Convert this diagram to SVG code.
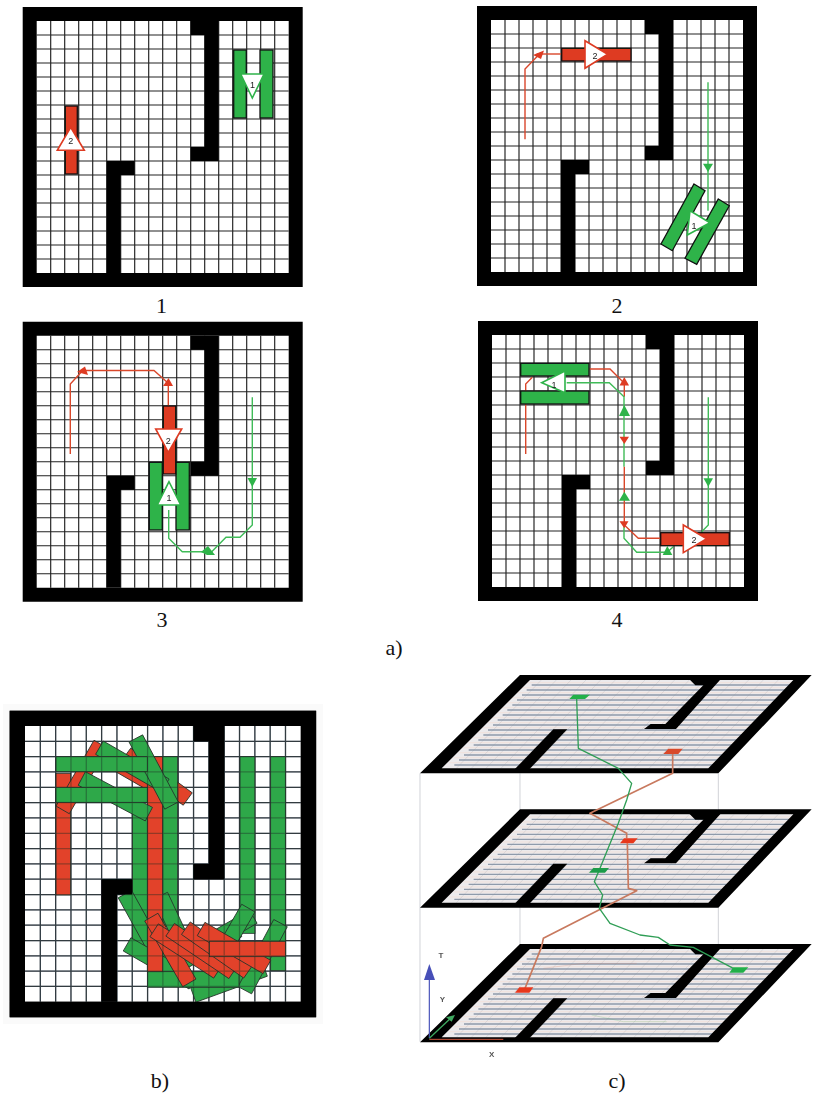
<svg xmlns="http://www.w3.org/2000/svg" xmlns:xlink="http://www.w3.org/1999/xlink" width="814" height="1096" viewBox="0 0 814 1096">
<style>
.grid{fill:none;stroke-width:1.15}
.bar{stroke:#111;stroke-width:1.3}
.g{fill:#2fb34a}
.r{fill:#de3a22}
.tg{fill:#fff;stroke:#2fb34a;stroke-width:1.6}
.tr{fill:#fff;stroke:#de3a22;stroke-width:1.6}
.pg{fill:none;stroke:#3fbb58;stroke-width:1.4}
.pr{fill:none;stroke:#d9472c;stroke-width:1.4}
.ag{fill:#2fb34a}
.ar{fill:#de3a22}
.id{font:9px "Liberation Sans",Arial,sans-serif;fill:#222;text-anchor:middle}
.cap{font:22px "Liberation Serif","Times New Roman",serif;fill:#111;text-anchor:middle}
.bb{stroke:#26332a;stroke-width:2.4}
.bg{fill:#2ea84a}
.br{fill:#e2432a}
.ax{font:bold 24px "Liberation Sans",Arial,sans-serif;fill:#555;text-anchor:middle}
</style>
<defs>
<filter id="s1" x="-5%" y="-5%" width="110%" height="110%"><feGaussianBlur stdDeviation="0.35"/></filter>
<filter id="s2" x="-5%" y="-5%" width="110%" height="110%"><feGaussianBlur stdDeviation="0.6"/></filter>
<filter id="s3" x="-5%" y="-5%" width="110%" height="110%"><feGaussianBlur stdDeviation="1.7"/></filter>
<path id="lines" d="M14 0V252M28 0V252M42 0V252M56 0V252M70 0V252M84 0V252M98 0V252M112 0V252M126 0V252M140 0V252M154 0V252M168 0V252M182 0V252M196 0V252M210 0V252M224 0V252M238 0V252M0 14H252M0 28H252M0 42H252M0 56H252M0 70H252M0 84H252M0 98H252M0 112H252M0 126H252M0 140H252M0 154H252M0 168H252M0 182H252M0 196H252M0 210H252M0 224H252M0 238H252"/>
<g id="walls" fill="#000">
<path d="M154 0H182V140H154V126H168V14H154Z"/>
<path d="M70 140H98V154H84V252H70Z"/>
<path fill-rule="evenodd" d="M-14 -14H266V266H-14ZM0 0V252H252V0Z"/>
</g>
<rect id="bar" class="bb" x="-114" y="-23" width="228" height="46"/>
<g id="plane">
<path d="M345 60H1165L905 325H85Z" fill="#eceaec"/>
<path d="M365 75H1145M350 90H1130M336 105H1116M321 120H1101M307 135H1087M292 150H1072M278 165H1058M263 180H1043M249 195H1029M234 210H1014M220 225H1000M205 240H985M191 255H971M176 270H956M162 285H942M147 300H927M133 315H913" fill="none" stroke="#8f9bab" stroke-width="4"/>
<path d="M350 68H1150M335 83H1135M320 98H1120M306 113H1106M291 128H1091M277 143H1077M262 158H1062M248 173H1048M233 188H1033M219 203H1019M204 218H1004M190 233H990M175 248H975M161 263H961M146 278H946M132 293H932M117 308H917" fill="none" stroke="#f3dcd4" stroke-width="2"/>
<path d="M394 60L139 325M439 60L184 325M483 60L228 325M528 60L273 325M572 60L317 325M616 60L361 325M661 60L406 325M705 60L450 325M750 60L495 325M794 60L539 325M838 60L583 325M883 60L628 325M927 60L672 325M972 60L717 325M1016 60L761 325M1060 60L805 325M1105 60L850 325" fill="none" stroke="#8d93a0" stroke-width="1.5" opacity=".4"/>
<path fill-rule="evenodd" d="M330 45H1205L925 340H30ZM360 60L95 325H895L1150 60Z" fill="#000"/>
<path d="M838 58H932L798 207H702L722 192H766L880 76H856Z" fill="#000"/>
<path d="M430 208H472L358 328H314Z" fill="#000"/>
</g>
</defs>
<rect width="814" height="1096" fill="#fff"/>

<g id="panel-1" filter="url(#s1)">
<g transform="translate(36.7 21)"><use href="#lines" class="grid" stroke="#222"/><use href="#walls"/></g>
<g id="robot-1a"><rect class="g bar" x="233.7" y="50" width="12.6" height="68"/><rect class="g bar" x="260" y="50" width="13" height="68"/><path class="tg" d="M240.7 74H264L252.3 98Z"/><text class="id" x="252.5" y="88">1</text></g>
<g id="robot-2a"><rect class="r bar" x="65.3" y="106" width="12" height="68"/><path class="tr" d="M57.3 150.3H84.3L70.7 127.3Z"/><text class="id" x="70.7" y="144">2</text></g>
</g>

<g id="panel-2" filter="url(#s1)">
<g transform="translate(491 20)"><use href="#lines" class="grid" stroke="#222"/><use href="#walls"/></g>
<g id="connectors-2">
<path class="pr" d="M525 139.3V69L541 52.5"/><path class="pr" d="M536.7 54H561.7"/><path class="ar" d="M544 50.5L541 59L533 55Z"/>
<path class="pg" d="M708 82.3V210.7"/><path class="ag" d="M703 163.7H713L708 172Z"/>
</g>
<g id="robot-2b"><rect class="r bar" x="561.7" y="48.3" width="69.3" height="12.7"/><path class="tr" d="M585 40.7V68.3L607.7 54.3Z"/><text class="id" x="595" y="59">2</text></g>
<g id="robot-1b"><path class="g bar" d="M694 184L705 190.7L672.3 250.7L661 244Z"/><path class="g bar" d="M718.3 199L729.3 205.7L696.7 264.3L685 258.3Z"/><path class="tg" d="M690 210.7L710 222.7L687.3 235Z"/><text class="id" x="694" y="229">1</text></g>
</g>

<g id="panel-3" filter="url(#s1)">
<g transform="translate(36.7 335.7)"><use href="#lines" class="grid" stroke="#222"/><use href="#walls"/></g>
<g id="connectors-3">
<path class="pr" d="M70.3 454V384L82.7 370.5H154L168.3 383.3V406"/><path class="ar" d="M85 366.5L88 375L77 372Z"/><path class="ar" d="M168.5 378L173 386H163Z"/>
<path class="pg" d="M252.3 397.3V525L240 537.3H226L211.7 551.7H182.3L168.7 538.3V510"/><path class="ag" d="M247.5 478H257L252.3 487Z"/><path class="ag" d="M208 546L215 555H207L201 552Z"/>
</g>
<g id="robot-1c"><rect class="g bar" x="149.3" y="462.3" width="13" height="67.7"/><rect class="g bar" x="176" y="462.3" width="13.3" height="67.7"/><path class="tg" d="M169 481.7L157.3 505H180.7Z"/><text class="id" x="169" y="500.5">1</text></g>
<g id="robot-2c"><rect class="r bar" x="163.3" y="406" width="12.4" height="68"/><path class="tr" d="M155.7 429H181.7L168.3 452.3Z"/><text class="id" x="168.3" y="444">2</text></g>
</g>

<g id="panel-4" filter="url(#s1)">
<g transform="translate(492 335)"><use href="#lines" class="grid" stroke="#222"/><use href="#walls"/></g>
<g id="connectors-4">
<path class="pr" d="M525.7 454V384L532.3 377.3"/>
<path class="pr" d="M589.3 369H610L624.3 383.3V396.7"/>
<path class="pg" d="M566.7 382.7H609.3L624 396.7V466.7"/>
<path class="pg" d="M624 525V538.3L636.7 552.3H667.3L673.3 546.7"/>
<path class="pr" d="M624.3 466.7V525L638.3 538.3H660.7"/>
<path class="pg" d="M708.3 397.3V525L701.7 531.7"/>
<path class="ar" d="M624.3 377L629 385.5H619.5Z"/>
<path class="ag" d="M624.3 405L630 416H619Z"/>
<path class="ar" d="M619.5 436.7H629L624.3 444Z"/>
<path class="ag" d="M624.3 491.7L630 500.7H619Z"/>
<path class="ar" d="M619.5 521.3H628.5L624.3 528.3Z"/>
<path class="ag" d="M667.3 546L672.3 555H662.7Z"/>
<path class="ag" d="M703.5 478.3H713L708.3 486.7Z"/>
</g>
<g id="robot-1d"><rect class="g bar" x="520.7" y="363.3" width="68.3" height="12.7"/><rect class="g bar" x="520.7" y="391" width="68.3" height="13"/><path class="tg" d="M565 371V392.7L541.7 382.7Z"/><text class="id" x="554" y="387.5">1</text></g>
<g id="robot-2d"><rect class="r bar" x="660.7" y="532.7" width="68.6" height="13"/><path class="tr" d="M683.3 525V552.7L706.7 538.7Z"/><text class="id" x="694" y="543">2</text></g>
</g>

<g id="captions-a">
<text class="cap" x="161.5" y="313">1</text>
<text class="cap" x="617" y="313">2</text>
<text class="cap" x="162" y="627">3</text>
<text class="cap" x="617" y="627">4</text>
<text class="cap" x="394" y="655">a)</text>
</g>

<g id="panel-b" filter="url(#s2)">
<rect x="3" y="704" width="320" height="320" fill="#fafafa"/>
<g transform="translate(25 726) scale(1.0945)"><rect width="252" height="252" fill="#fff"/><use href="#lines" class="grid" stroke="#3d4656"/><use href="#walls"/></g>
<g id="bars" transform="translate(0 700) scale(.33333)">
<rect class="bb br" x="168" y="220" width="44" height="365"/>
<use href="#bar" class="br" transform="translate(374 204) rotate(30)"/>
<use href="#bar" class="br" transform="translate(471 230) rotate(36)"/>
<use href="#bar" class="br" transform="translate(245 231) rotate(-60)"/>
<rect class="bb bg" x="720" y="170" width="45" height="530"/>
<rect class="bb bg" x="812" y="170" width="45" height="642"/>
<rect class="bb bg" x="397" y="340" width="46" height="410"/>
<rect class="bb bg" x="488" y="170" width="45" height="510"/>
<use href="#bar" class="bg" transform="translate(430 682) rotate(61)"/>
<use href="#bar" class="bg" transform="translate(480 790) rotate(30)"/>
<use href="#bar" class="bg" transform="translate(530 690) rotate(65)"/>
<use href="#bar" class="bg" transform="translate(687 846) rotate(-20)"/>
<use href="#bar" class="bg" transform="translate(615 747) rotate(-30)"/>
<use href="#bar" class="bg" transform="translate(661 707) rotate(-30)"/>
<use href="#bar" class="bg" transform="translate(688 723) rotate(-60)"/>
<use href="#bar" class="bg" transform="translate(788 770) rotate(-62)"/>
<rect class="bb bg" x="443" y="815" width="274" height="47"/>
<rect class="bb br" x="442" y="170" width="46" height="645"/>
<use href="#bar" class="bg" transform="translate(397 200) rotate(30)"/>
<use href="#bar" class="bg" transform="translate(346 289) rotate(28)"/>
<use href="#bar" class="bg" transform="translate(461 216) rotate(62)"/>
<rect class="bb bg" x="168" y="170" width="274" height="45"/>
<rect class="bb bg" x="168" y="262" width="274" height="45"/>
<use href="#bar" class="br" transform="translate(511 750) rotate(60)"/>
<use href="#bar" class="br" transform="translate(558 753) rotate(33)"/>
<use href="#bar" class="br" transform="translate(605 753) rotate(34)"/>
<use href="#bar" class="br" transform="translate(651 750) rotate(35)"/>
<use href="#bar" class="br" transform="translate(702 744) rotate(30)"/>
<rect class="bb br" x="628" y="724" width="229" height="46"/>
</g>
<g transform="translate(25 726) scale(1.0945)"><use href="#lines" class="grid" stroke="#1d2a22" opacity=".4"/><use href="#walls"/></g>
</g>
<text class="cap" x="160" y="1088">b)</text>

<g id="panel-c" filter="url(#s3)" transform="translate(410 660) scale(.33333)">
<g id="frame" fill="none" stroke="#c8cad0" stroke-width="2.5"><path d="M30 340V1145M330 340V855M925 340V1145"/></g>
<use href="#plane"/>
<use href="#plane" y="403"/>
<use href="#plane" y="807"/>
<g id="ghosts" fill="none" stroke-width="2" opacity=".35"><path d="M400 925L520 910H680" stroke="#d0806a"/><path d="M545 1065L640 1085H770" stroke="#5cb870"/></g>
<g id="trajectories">
<path d="M788 282V340L540 460L650 520V535M652 550L655 685L680 692L400 835L395 860L345 985" fill="none" stroke="#c8795e" stroke-width="5" stroke-linejoin="round"/>
<path d="M500 117L505 265L625 325L665 370L650 420L625 490L570 625L553 665L578 705L568 745L600 790L690 825L745 832L780 855L850 862L970 925" fill="none" stroke="#2f9e55" stroke-width="4" stroke-linejoin="round"/>
</g>
<g id="robots-c">
<path d="M478 117L490 104H540L525 117Z" fill="#23b04a"/>
<path d="M760 282L775 266H818L805 282Z" fill="#d8482a"/>
<path d="M630 550L642 535H683L670 550Z" fill="#e8391f"/>
<path d="M537 638L550 624H597L585 638Z" fill="#1d9c48"/>
<path d="M315 998L328 982H370L358 998Z" fill="#e8391f"/>
<path d="M958 938L970 922H1015L1000 938Z" fill="#23b04a"/>
</g>
<g id="axes">
<path d="M58 1135V958" fill="none" stroke="#4650b8" stroke-width="3.5"/><path d="M42 960H75L58 912Z" fill="#4650b8"/>
<path d="M58 1135L125 1072" fill="none" stroke="#3fa860" stroke-width="4"/><path d="M108 1072L135 1065L125 1085Z" fill="#3fa860"/>
<path d="M58 1138H280" fill="none" stroke="#d4583a" stroke-width="3"/>
<text class="ax" x="93" y="895">T</text>
<text class="ax" x="97" y="1027">Y</text>
<text class="ax" x="245" y="1190">X</text>
</g>
</g>
<text class="cap" x="617" y="1088">c)</text>
</svg>
